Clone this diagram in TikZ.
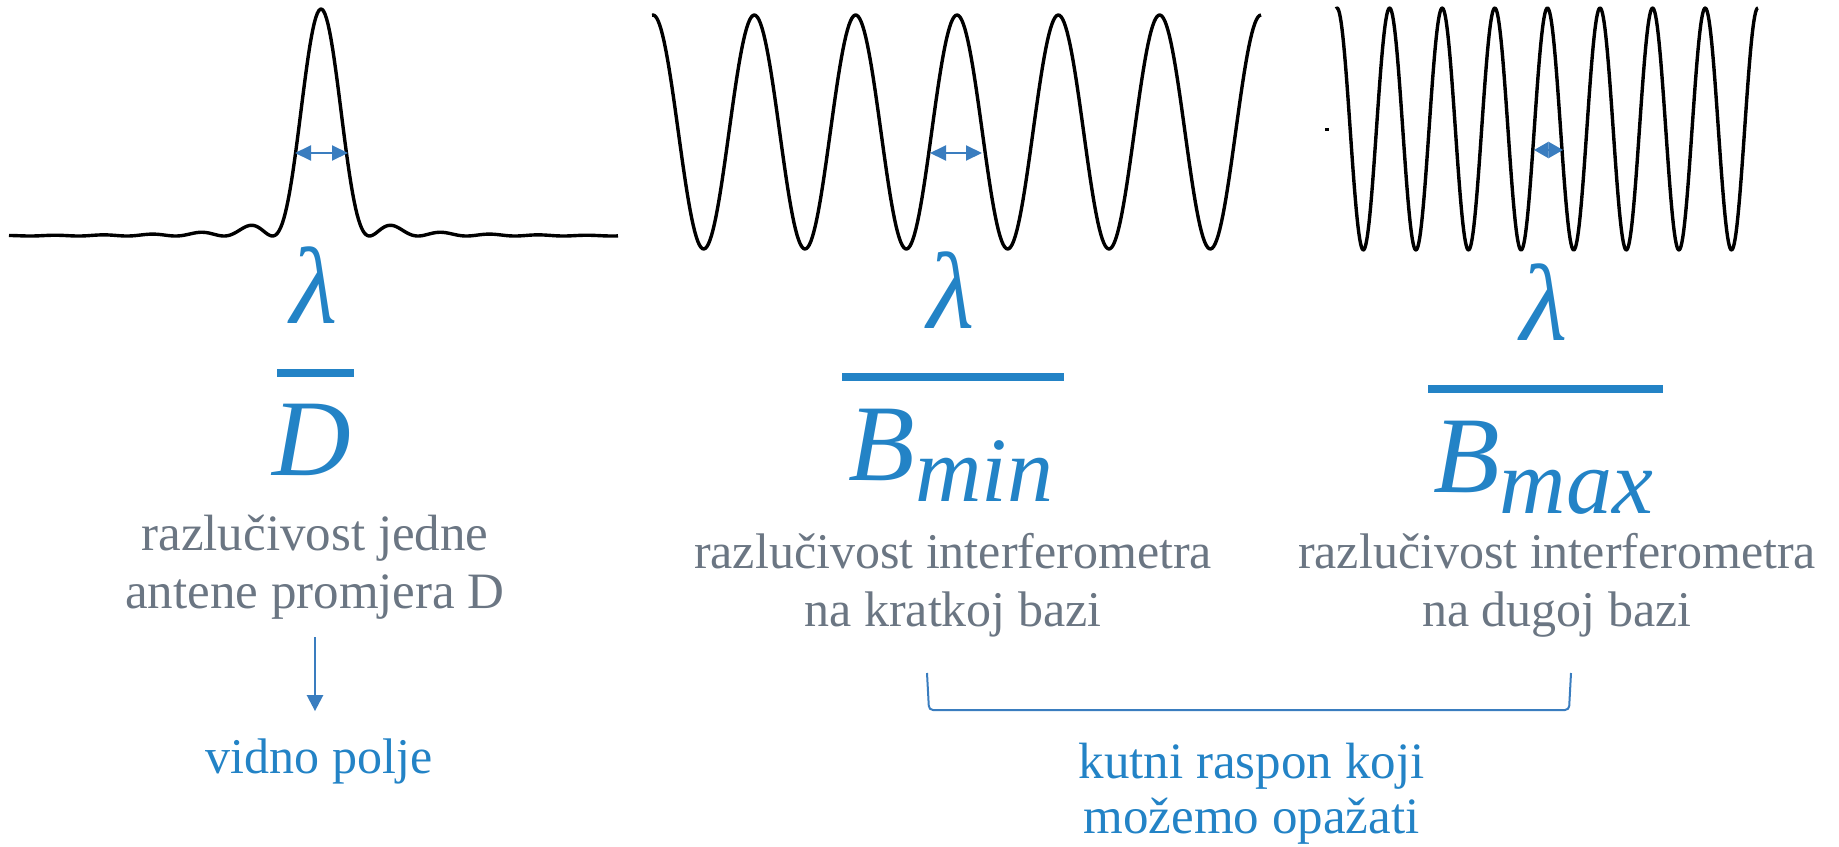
\documentclass[tikz,border=0pt]{standalone}
\usepackage{fontspec}
\setmainfont{Liberation Serif}
\usepackage{xcolor}
\usepackage{tikz}
\usetikzlibrary{arrows.meta, positioning}
\definecolor{beamBlue}{HTML}{2383C6}
\definecolor{markBlue}{HTML}{3A7DBF}
\definecolor{noteGray}{HTML}{6B7683}
\newcommand{\lowidx}[1]{\raisebox{-21pt}{\fontsize{92}{96}\selectfont #1}}
\tikzset{
    beam/.style={line width=3.4pt, black, line join=round},
    mathtxt/.style={text=beamBlue, inner sep=0pt, anchor=base, font={\fontsize{109}{120}\selectfont\itshape}},
    fracbar/.style={fill=beamBlue, inner sep=0pt, minimum height=8pt},
    notetxt/.style={text=noteGray, inner sep=0pt, anchor=base, align=center, font={\fontsize{50}{58}\selectfont}},
    bluetxt/.style={text=beamBlue, inner sep=0pt, anchor=base, align=center, font={\fontsize{50}{55}\selectfont}},
    widtharrow/.style={markBlue, line width=2pt, {Triangle[length=16pt,width=15pt]}-{Triangle[length=16pt,width=15pt]}},
    downarrow/.style={markBlue, line width=2.5pt, -{Triangle[length=16pt,width=16pt]}},
    bracket/.style={markBlue, line width=2pt, rounded corners=4pt}
}

\begin{document}
\begin{tikzpicture}[x=1pt, y=-1pt, declare function={airy(\u)=(sin(180*\u)/(pi*\u))*(sin(180*\u)/(pi*\u));}]
        \useasboundingbox (0,0) rectangle (1839,846);
        \draw[beam] plot[domain=9:618, samples=400] (\x, {236-227*airy((\x-321.01)/48.5)});
        \draw[beam] plot[domain=652:1261, samples=400] (\x, {132-117*cos(3.5528*(\x-653))});
        \draw[beam] plot[domain=1336:1758, samples=500] (\x, {129-121*cos(6.8441*(\x-1337))});
        \fill (1325,128) rectangle (1329,131);
        \coordinate (wA1) at (295,153);
        \coordinate (wA2) at (348,153);
        \coordinate (wB1) at (930,153);
        \coordinate (wB2) at (982,153);
        \coordinate (wC1) at (1534,150);
        \coordinate (wC2) at (1563,150);
        \draw[widtharrow] (wA1) -- (wA2);
        \draw[widtharrow] (wB1) -- (wB2);
        \draw[widtharrow, {Triangle[length=14.5pt,width=16pt]}-{Triangle[length=14.5pt,width=16pt]}] (wC1) -- (wC2);
        \node[mathtxt] (lamA) at (314,323) {λ};
        \node[fracbar, minimum width=77pt] (barA) at (315.5,372.5) {};
        \node[mathtxt] (denA) at (312,475) {D};
        \node[notetxt, font={\fontsize{51}{58}\selectfont}] (resA) at (315,608) {razlučivost jedne\\antene promjera D};
        \node[bluetxt] (fov) at (319,773) {vidno polje};
        \draw[downarrow, shorten <=18pt, shorten >=27pt] (resA.south) -- (resA.south |- fov.north);
        \node[mathtxt] (lamB) at (951,328) {λ};
        \node[fracbar, minimum width=222pt] (barB) at (953,377) {};
        \node[mathtxt] (denB) at (951,480) {B\lowidx{min}};
        \node[notetxt] (resB) at (953,626) {razlučivost interferometra\\na kratkoj bazi};
        \node[mathtxt] (lamC) at (1544,340) {λ};
        \node[fracbar, minimum width=235pt] (barC) at (1545.5,389) {};
        \node[mathtxt] (denC) at (1543,492) {B\lowidx{max}};
        \node[notetxt] (resC) at (1557,626) {razlučivost interferometra\\na dugoj bazi};
        \coordinate (brL) at (927,673);
        \coordinate (brR) at (1571,673);
        \draw[bracket] (brL) -- (929,710) -- (1569,710) -- (brR);
        \node[bluetxt, font={\fontsize{51}{55}\selectfont}] (span) at (1251.5,833) {kutni raspon koji\\možemo opažati};
    \end{tikzpicture}
\end{document}
